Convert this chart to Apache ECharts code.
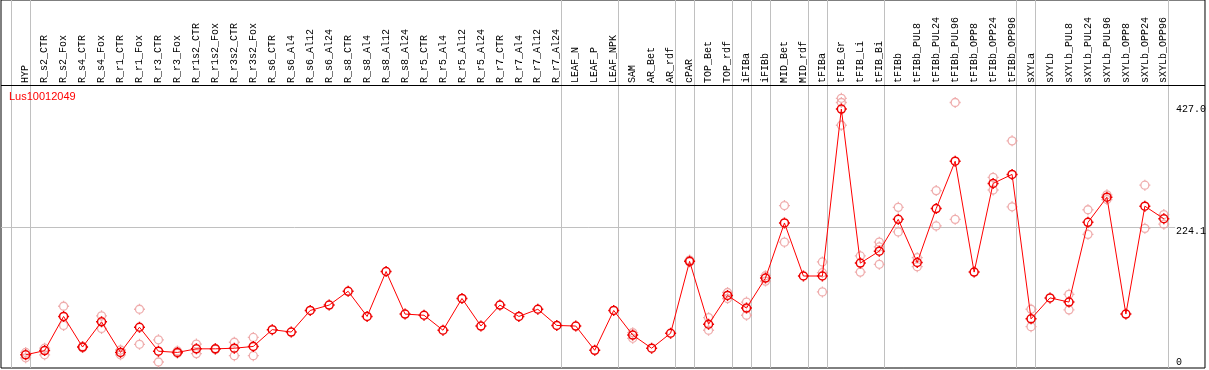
<!DOCTYPE html>
<html>
<head>
<meta charset="utf-8">
<script src="https://cdn.jsdelivr.net/npm/echarts@6/dist/echarts.min.js"></script>
<style>html,body{margin:0;padding:0;background:#fff}#c{width:1209px;height:370px}</style>
</head>
<body>
<div id="c"></div>
<script>
const geneName = 'Lus10012049';
const categories = ['HYP','R_s2_CTR','R_s2_Fox','R_s4_CTR','R_s4_Fox','R_r1_CTR','R_r1_Fox','R_r3_CTR','R_r3_Fox','R_r1s2_CTR','R_r1s2_Fox','R_r3s2_CTR','R_r3s2_Fox','R_s6_CTR','R_s6_Al4','R_s6_Al12','R_s6_Al24','R_s8_CTR','R_s8_Al4','R_s8_Al12','R_s8_Al24','R_r5_CTR','R_r5_Al4','R_r5_Al12','R_r5_Al24','R_r7_CTR','R_r7_Al4','R_r7_Al12','R_r7_Al24','LEAF_N','LEAF_P','LEAF_NPK','SAM','AR_Bet','AR_rdf','cPAR','TOP_Bet','TOP_rdf','iFIBa','iFIBb','MID_Bet','MID_rdf','tFIBa','tFIB_Gr','tFIB_Li','tFIB_Bi','tFIBb','tFIBb_PUL8','tFIBb_PUL24','tFIBb_PUL96','tFIBb_OPP8','tFIBb_OPP24','tFIBb_OPP96','sXYLa','sXYLb','sXYLb_PUL8','sXYLb_PUL24','sXYLb_PUL96','sXYLb_OPP8','sXYLb_OPP24','sXYLb_OPP96'];
const meanValues = [12,19,76,25,67,16,58,18,16,22,22,23,26,54,50,86,95,118,76,151,80,78,53,106,60,95,76,88,61,60,19.5,86,45,23,48,168,63,111,90,140,232,143.5,143.5,422,165,185,238,166,256,335,150,298,313,72,107,100,233,275,80,260,239];
const rep1 = [16,23,93,26,77,20,88,37,18.4,30,22,33,41,null,null,null,null,null,null,null,null,null,null,null,null,null,null,null,null,null,null,null,49,null,null,170,74,116,100,144,261,null,167,440,177,200,258,174,286,433,null,308,369,88,null,113,254,279,null,295,246];
const rep2 = [7,12,61,24,56,12,29.5,0,14.5,14,21,10.5,10.5,null,null,null,null,null,null,null,null,null,null,null,null,null,null,null,null,null,null,null,39.5,null,null,167,53,106,78,135,200,null,149,433,150,192,217,159,227,238,null,287,259,59,null,87,213,271,null,223,230];
const rep3 = [null,null,null,null,null,null,null,null,null,null,null,null,null,null,null,null,null,null,null,null,null,null,null,null,null,null,null,null,null,null,null,null,null,null,null,null,null,null,null,null,null,null,117,395,null,163,null,null,null,null,null,null,null,null,null,null,null,null,null,null,null];
const groupEnds = [-1,0,28,31,34,35,37,38,39,41,42,45,52,53,60];
const yTicks = [0,224.1,427];
const midLine = 224.1;

const mono = 'Liberation Mono';
const k = 2.209;
const sym = 'path://M0,-5.5L0,-4M0,4L0,5.5M-5.5,0L-4,0M4,0L5.5,0' +
  'M4,0C4,' + k + ',' + k + ',4,0,4C-' + k + ',4,-4,' + k + ',-4,0C-4,-' + k + ',-' + k + ',-4,0,-4C' + k + ',-4,4,-' + k + ',4,0Z';

const chart = echarts.init(document.getElementById('c'), null, {renderer:'canvas'});
const xMin = -1.3, xMax = 62.17, yMin = -10, yMax = 604, headerVal = 462.2;

const repData = [];
[rep1, rep2, rep3].forEach(arr => arr.forEach((v, i) => { if (v !== null) repData.push([i, v]); }));

const markData = groupEnds.map(g => ({xAxis: g + 0.24, lineStyle: {color: '#c0c0c0', width: 1, type: 'solid'}}));
markData.push({yAxis: headerVal, lineStyle: {color: '#000', width: 1, type: 'solid'}});
markData.push([{coord: [xMin, midLine], lineStyle: {color: '#c0c0c0', width: 1, type: 'solid'}}, {coord: [60.6, midLine]}]);

chart.setOption({
  animation: false,
  backgroundColor: '#fff',
  title: {text: geneName, left: 9, top: 91, padding: 0, textStyle: {color: '#ff0000', fontFamily: 'Liberation Sans', fontSize: 11, fontWeight: 'normal'}},
  grid: {left: 1, right: 2, top: 0, bottom: 2, show: true, borderColor: '#000', borderWidth: 1, backgroundColor: '#fff'},
  xAxis: {
    type: 'value', min: xMin, max: xMax, position: 'top', offset: -85,
    axisLine: {show: false}, axisTick: {show: false}, splitLine: {show: false},
    axisLabel: {
      customValues: categories.map((c, i) => i), rotate: 90, margin: 2,
      formatter: v => categories[Math.round(v)] || '',
      fontFamily: mono, fontSize: 10, color: '#000', hideOverlap: false
    }
  },
  yAxis: {
    type: 'value', min: yMin, max: yMax, position: 'right',
    axisLine: {show: false}, axisTick: {show: false}, splitLine: {show: false},
    axisLabel: {
      customValues: yTicks, inside: true, align: 'left', margin: 29,
      formatter: v => v === 0 ? '0' : (v === 224.1 ? '{b|' + v.toFixed(1) + '}' : '{c|' + v.toFixed(1) + '}'),
      fontFamily: mono, fontSize: 10, color: '#000',
      rich: {b: {fontFamily: mono, fontSize: 10, color: '#000', padding: [8,0,0,0]}, c: {fontFamily: mono, fontSize: 10, color: '#000', padding: [6,0,0,0]}}
    }
  },
  series: [
    {
      type: 'scatter', data: repData, symbol: sym, symbolSize: 11, z: 2, silent: true,
      itemStyle: {color: 'rgba(0,0,0,0)', borderColor: '#eb9898', borderWidth: 1.3}
    },
    {
      type: 'line', data: meanValues.map((v, i) => [i, v]), symbol: sym, symbolSize: 11, z: 3, silent: true,
      lineStyle: {color: '#ff0000', width: 1},
      itemStyle: {color: 'rgba(0,0,0,0)', borderColor: '#ee0000', borderWidth: 1.5},
      markLine: {silent: true, symbol: ['none', 'none'], label: {show: false}, data: markData, z: 1}
    }
  ]
});
</script>
</body>
</html>
